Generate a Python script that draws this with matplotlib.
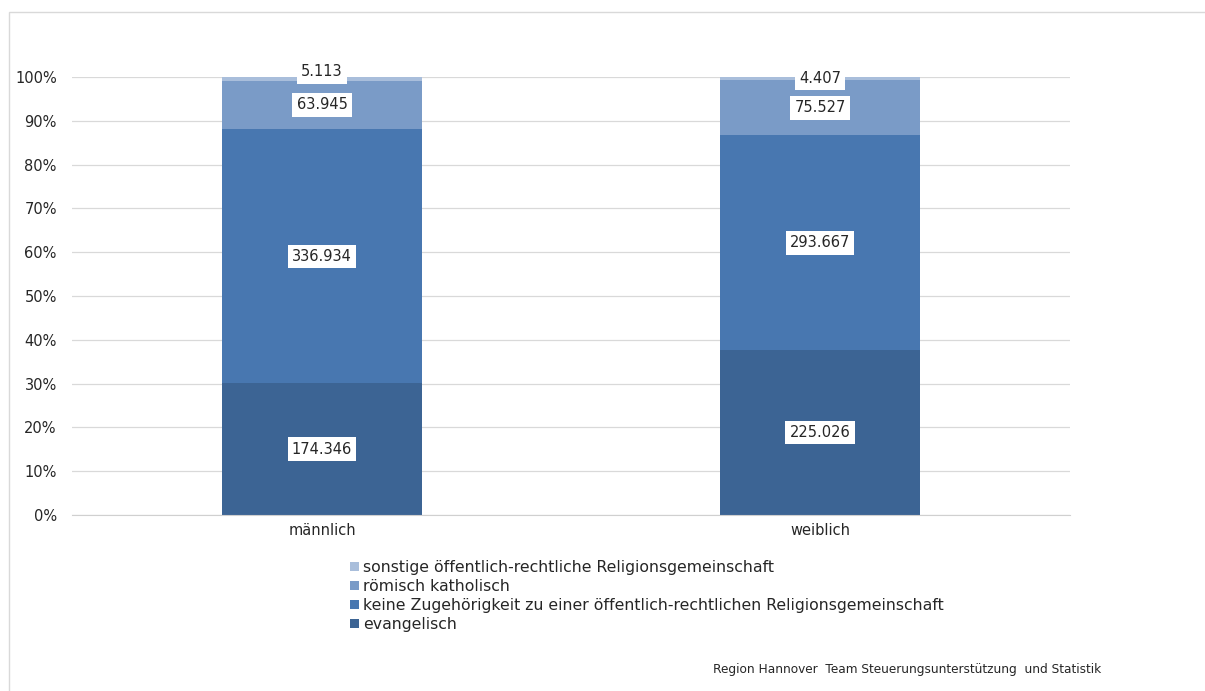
import matplotlib.pyplot as plt
from matplotlib.patches import Rectangle
from matplotlib.ticker import PercentFormatter
import numpy as np

plt.rcParams['font.family'] = ['DejaVu Sans']

categories = ['männlich', 'weiblich']
series_names = [
    'evangelisch',
    'keine Zugehörigkeit zu einer öffentlich-rechtlichen Religionsgemeinschaft',
    'römisch katholisch',
    'sonstige öffentlich-rechtliche Religionsgemeinschaft',
]
evangelisch = [174346, 225026]
keine = [336934, 293667]
katholisch = [63945, 75527]
sonstige = [5113, 4407]
colors = ['#3c6494', '#4877b0', '#7a9bc7', '#a9bedb']


def fmt(v):
    return f'{v:,}'.replace(',', '.')


counts = np.array([evangelisch, keine, katholisch, sonstige], dtype=float)
shares = counts / counts.sum(axis=0) * 100

fig = plt.figure(figsize=(12.05, 6.91), dpi=100)
fig.patches.append(Rectangle((9 / 1205, -0.1), 1.2, 1 - 12 / 691 + 0.1,
                             transform=fig.transFigure, fill=False,
                             edgecolor='#d9d9d9', linewidth=1))
ax = fig.add_axes([0.0598, 0.2547, 0.888 - 0.0598, 0.8886 - 0.2547])

x = np.arange(len(categories))
bottom = np.zeros(len(categories))
# small upward nudge for the thin top segment labels
top_shift = [1.6, 0.0]
for i, name in enumerate(series_names):
    ax.bar(x, shares[i], bottom=bottom, width=0.40, color=colors[i],
           label=name, zorder=2)
    for j in range(len(categories)):
        yc = bottom[j] + shares[i][j] / 2
        if i == 3:
            yc += top_shift[j]
        ax.text(x[j], yc, fmt(int(counts[i][j])), ha='center', va='center',
                fontsize=10.5, color='#262626', zorder=4,
                bbox=dict(facecolor='white', edgecolor='none', pad=3))
    bottom += shares[i]

ax.set_xlim(-0.502, 1.502)
ax.set_ylim(0, 100)
ax.set_yticks(np.arange(0, 101, 10))
ax.yaxis.set_major_formatter(PercentFormatter(decimals=0))
ax.set_xticks(x)
ax.set_xticklabels(categories)
ax.tick_params(length=0, labelsize=10.5, labelcolor='#262626')
ax.tick_params(axis='y', pad=11)
ax.tick_params(axis='x', pad=6)
ax.grid(axis='y', color='#d9d9d9', linewidth=0.9, zorder=0)
for s in ['left', 'right', 'top']:
    ax.spines[s].set_visible(False)
ax.spines['bottom'].set_color('#d0d0d0')

handles, labels = ax.get_legend_handles_labels()
fig.legend(handles[::-1], labels[::-1], loc='upper left',
           bbox_to_anchor=(344 / 1205, 1 - 554 / 691), frameon=False,
           fontsize=11.3, handlelength=0.55, handleheight=0.55,
           handletextpad=0.25, labelspacing=0.25, borderaxespad=0,
           labelcolor='#262626')

fig.text(713 / 1205, 1 - 670 / 691,
         'Region Hannover  Team Steuerungsunterstützung  und Statistik',
         fontsize=8.7, color='#262626', va='center')

fig.savefig('out.png', dpi=100)
